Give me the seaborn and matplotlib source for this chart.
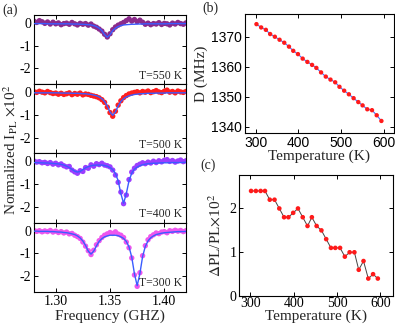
import numpy as np
import pandas as pd
import matplotlib
matplotlib.use("Agg")
import matplotlib.pyplot as plt
import seaborn as sns

sns.set_theme(style="ticks")
plt.rcParams['font.family'] = ['Liberation Serif', 'DejaVu Serif']
plt.rcParams['mathtext.fontset'] = 'stix'
plt.rcParams['axes.unicode_minus'] = False
plt.rcParams['axes.edgecolor'] = 'black'
plt.rcParams['axes.linewidth'] = 0.8

# ---- panel (a): ODMR spectra ----
freq = [1.2800, 1.2825, 1.2850, 1.2875, 1.2900, 1.2925, 1.2950, 1.2975, 1.3000, 1.3025,
        1.3050, 1.3075, 1.3100, 1.3125, 1.3150, 1.3175, 1.3200, 1.3225, 1.3250, 1.3275,
        1.3300, 1.3325, 1.3350, 1.3375, 1.3400, 1.3425, 1.3450, 1.3475, 1.3500, 1.3525,
        1.3550, 1.3575, 1.3600, 1.3625, 1.3650, 1.3675, 1.3700, 1.3725, 1.3750, 1.3775,
        1.3800, 1.3825, 1.3850, 1.3875, 1.3900, 1.3925, 1.3950, 1.3975, 1.4000, 1.4025,
        1.4050, 1.4075, 1.4100, 1.4125, 1.4150, 1.4175, 1.4200]

pts_550 = [0.08, 0.02, 0.10, 0.05, -0.02, 0.04, -0.05, 0.03, -0.04, 0.00,
           -0.08, -0.03, -0.01, -0.06, 0.02, -0.04, -0.09, -0.02, -0.06, -0.03,
           -0.10, -0.05, -0.14, -0.19, -0.27, -0.36, -0.50, -0.62, -0.48, -0.30,
           -0.18, -0.10, -0.04, 0.02, 0.10, 0.18, 0.08, 0.15, 0.05, 0.12,
           0.03, -0.06, -0.01, -0.08, -0.03, -0.05, 0.01, -0.07, -0.02, -0.04,
           -0.09, -0.01, -0.05, 0.02, -0.03, -0.06, 0.00]
fit_550 = [-0.03, -0.03, -0.03, -0.03, -0.03, -0.04, -0.04, -0.04, -0.04, -0.04,
           -0.04, -0.04, -0.04, -0.04, -0.05, -0.05, -0.05, -0.06, -0.06, -0.07,
           -0.08, -0.09, -0.12, -0.16, -0.23, -0.34, -0.52, -0.63, -0.52, -0.34,
           -0.23, -0.16, -0.12, -0.09, -0.08, -0.07, -0.06, -0.06, -0.05, -0.05,
           -0.05, -0.04, -0.04, -0.04, -0.04, -0.04, -0.04, -0.04, -0.04, -0.04,
           -0.03, -0.03, -0.03, -0.03, -0.03, -0.03, -0.03]

pts_500 = [0.02, -0.01, 0.04, 0.00, -0.03, 0.03, -0.02, -0.06, -0.04, -0.09,
           -0.05, -0.10, -0.07, -0.03, -0.11, -0.06, -0.09, -0.04, -0.12, -0.08,
           -0.10, -0.14, -0.17, -0.20, -0.25, -0.33, -0.45, -0.66, -0.90, -1.06,
           -0.84, -0.57, -0.38, -0.24, -0.15, -0.08, -0.04, -0.01, 0.02, -0.03,
           0.03, 0.00, 0.05, -0.02, 0.02, 0.07, 0.01, -0.02, 0.04, 0.09,
           0.00, 0.03, -0.03, 0.05, 0.01, -0.01, 0.03]
fit_500 = [-0.03, -0.03, -0.03, -0.03, -0.03, -0.03, -0.03, -0.03, -0.03, -0.03,
           -0.04, -0.04, -0.04, -0.04, -0.05, -0.05, -0.05, -0.06, -0.07, -0.07,
           -0.09, -0.10, -0.13, -0.16, -0.21, -0.29, -0.41, -0.61, -0.87, -1.02,
           -0.87, -0.61, -0.41, -0.29, -0.21, -0.16, -0.13, -0.10, -0.09, -0.07,
           -0.07, -0.06, -0.05, -0.05, -0.05, -0.04, -0.04, -0.04, -0.04, -0.03,
           -0.03, -0.03, -0.03, -0.03, -0.03, -0.03, -0.03]

pts_400 = [0.02, -0.03, -0.01, -0.06, -0.04, -0.09, -0.05, -0.12, -0.08, -0.15,
           -0.11, -0.19, -0.24, -0.22, -0.38, -0.46, -0.52, -0.41, -0.44, -0.27,
           -0.30, -0.15, -0.21, -0.10, -0.14, -0.08, -0.16, -0.19, -0.24, -0.38,
           -0.60, -0.92, -1.35, -1.86, -1.48, -0.80, -0.47, -0.30, -0.18, -0.12,
           -0.06, -0.10, -0.03, -0.07, 0.01, -0.05, 0.03, -0.02, 0.05, 0.08,
           0.00, 0.04, -0.03, 0.02, 0.06, -0.01, 0.03]
fit_400 = [-0.05, -0.05, -0.06, -0.06, -0.07, -0.07, -0.08, -0.09, -0.10, -0.11,
           -0.13, -0.16, -0.21, -0.27, -0.35, -0.43, -0.47, -0.44, -0.36, -0.28,
           -0.23, -0.19, -0.17, -0.16, -0.16, -0.16, -0.18, -0.21, -0.27, -0.36,
           -0.53, -0.85, -1.42, -1.84, -1.42, -0.85, -0.52, -0.34, -0.25, -0.19,
           -0.15, -0.12, -0.10, -0.09, -0.08, -0.08, -0.07, -0.06, -0.06, -0.06,
           -0.05, -0.05, -0.05, -0.05, -0.05, -0.04, -0.04]

pts_300 = [0.01, -0.03, 0.00, -0.05, -0.01, -0.04, 0.01, -0.06, -0.02, -0.08,
           -0.04, -0.10, -0.06, -0.14, -0.12, -0.20, -0.26, -0.34, -0.50, -0.68,
           -0.88, -1.05, -0.86, -0.62, -0.44, -0.30, -0.20, -0.14, -0.08, -0.12,
           -0.05, -0.15, -0.20, -0.30, -0.50, -0.75, -1.20, -1.95, -2.45, -1.85,
           -1.10, -0.66, -0.40, -0.26, -0.18, -0.10, -0.13, -0.06, -0.04, -0.09,
           0.00, -0.03, 0.02, -0.02, 0.01, -0.04, 0.00]
fit_300 = [-0.02, -0.02, -0.03, -0.03, -0.03, -0.03, -0.04, -0.04, -0.05, -0.06,
           -0.06, -0.08, -0.09, -0.11, -0.14, -0.17, -0.23, -0.32, -0.45, -0.65,
           -0.90, -1.03, -0.90, -0.67, -0.47, -0.35, -0.27, -0.23, -0.20, -0.20,
           -0.20, -0.22, -0.27, -0.34, -0.47, -0.71, -1.16, -1.90, -2.42, -1.89,
           -1.14, -0.69, -0.45, -0.31, -0.23, -0.17, -0.14, -0.11, -0.09, -0.08,
           -0.07, -0.06, -0.05, -0.04, -0.04, -0.04, -0.03]

spectra = [("T=550 K", pts_550, fit_550, "#8b2a8b"),
           ("T=500 K", pts_500, fit_500, "#ff1f1f"),
           ("T=400 K", pts_400, fit_400, "#9b3dff"),
           ("T=300 K", pts_300, fit_300, "#ee55ee")]

# ---- panel (b) and (c): temperature dependence ----
temperature = [302, 313, 324, 334, 345, 356, 367, 378, 388, 399, 410, 421, 432, 442,
               453, 464, 475, 486, 496, 507, 518, 529, 540, 550, 561, 572, 583, 594]
zfs_D = [1374.2, 1373.1, 1372.3, 1370.9, 1370.0, 1369.0, 1368.0, 1366.7, 1365.3, 1364.2,
         1362.7, 1361.6, 1360.6, 1359.6, 1358.1, 1356.7, 1355.7, 1354.8, 1353.3, 1352.0,
         1350.8, 1349.5, 1348.2, 1347.1, 1345.8, 1345.5, 1343.8, 1341.9]
contrast = [2.4, 2.4, 2.4, 2.4, 2.2, 2.2, 2.0, 1.8, 1.8, 1.9, 2.0, 1.8, 1.6, 1.8,
            1.6, 1.5, 1.3, 1.1, 1.1, 1.1, 0.9, 1.0, 1.0, 0.6, 0.8, 0.4, 0.5, 0.4]

fig = plt.figure(figsize=(3.95, 3.25), dpi=100)

tick_kw = dict(direction='in', top=True, right=True, length=3, width=0.7, pad=2, colors='black')

a_left, a_w, a_top, a_bot = 0.086, 0.385, 0.954, 0.1015
h = (a_top - a_bot) / 4
for k, (lab, pts, fit, col) in enumerate(spectra):
    ax = fig.add_axes([a_left, a_top - (k + 1) * h, a_w, h])
    df = pd.DataFrame({'f': freq, 'pts': pts, 'fit': fit})
    sns.scatterplot(data=df, x='f', y='pts', color=col, s=15, edgecolor='none', ax=ax, zorder=2)
    sns.lineplot(data=df, x='f', y='fit', color='#3a5cff', lw=1.0, ax=ax, zorder=3)
    ax.set_xlim(1.28, 1.42)
    ax.set_ylim(-2.7, 0.35)
    ax.set_xticks([1.30, 1.35, 1.40])
    ax.set_yticks([0, -1, -2])
    ax.set_xlabel('')
    ax.set_ylabel('')
    ax.tick_params(labelsize=10, **tick_kw)
    if k < 3:
        ax.tick_params(labelbottom=False)
    ax.text(0.975, 0.08, lab, transform=ax.transAxes, ha='right', va='baseline', fontsize=8.5)

fig.text(0.026, 0.54, r'Normalized I$_{\mathrm{PL}}$ $\times$10$^{2}$', rotation=90,
         ha='center', va='center', fontsize=11)
fig.text(0.278, 0.006, 'Frequency (GHZ)', ha='center', va='bottom', fontsize=11)

# (b)
axb = fig.add_axes([0.620, 0.590, 0.377, 0.368])
dfb = pd.DataFrame({'T': temperature, 'D': zfs_D})
sns.lineplot(data=dfb, x='T', y='D', color='#4a6cff', lw=0.8, ax=axb, zorder=2)
sns.scatterplot(data=dfb, x='T', y='D', color='#ff1a1a', s=10, edgecolor='none', ax=axb, zorder=3)
axb.set_xlim(275, 623)
axb.set_ylim(1337.8, 1377.7)
axb.set_xticks([300, 400, 500, 600])
axb.set_yticks([1340, 1350, 1360, 1370])
axb.tick_params(labelsize=10, labelfontfamily='Liberation Sans', **tick_kw)
axb.set_xlabel('Temperature (K)', fontsize=11)
axb.xaxis.label.set_va('center')
axb.xaxis.set_label_coords(0.5, -0.19)
axb.set_ylabel('D (MHz)', fontsize=11, labelpad=2)

# (c)
axc = fig.add_axes([0.606, 0.089, 0.389, 0.372])
dfc = pd.DataFrame({'T': temperature, 'C': contrast})
sns.lineplot(data=dfc, x='T', y='C', color='#444444', lw=0.7, ax=axc, zorder=2)
sns.scatterplot(data=dfc, x='T', y='C', color='#ff1a1a', s=11, edgecolor='none', ax=axc, zorder=3)
axc.set_xlim(275, 629)
axc.set_ylim(0, 2.76)
axc.set_xticks([300, 400, 500, 600])
axc.set_yticks([0, 1, 2])
axc.tick_params(labelsize=10, **tick_kw)
axc.tick_params(axis='x', pad=1)
axc.set_xlabel('Temperature (K)', fontsize=11)
axc.xaxis.label.set_va('top')
axc.xaxis.set_label_coords(0.5, -0.115)
axc.set_ylabel(r'$\Delta$PL/PL$\times$10$^{2}$', fontsize=11, labelpad=4)

fig.text(0.005, 0.968, '(a)', ha='left', va='center', fontsize=10)
fig.text(0.513, 0.975, '(b)', ha='left', va='center', fontsize=10)
fig.text(0.508, 0.492, '(c)', ha='left', va='center', fontsize=10)

fig.savefig('out.png', dpi=100)
